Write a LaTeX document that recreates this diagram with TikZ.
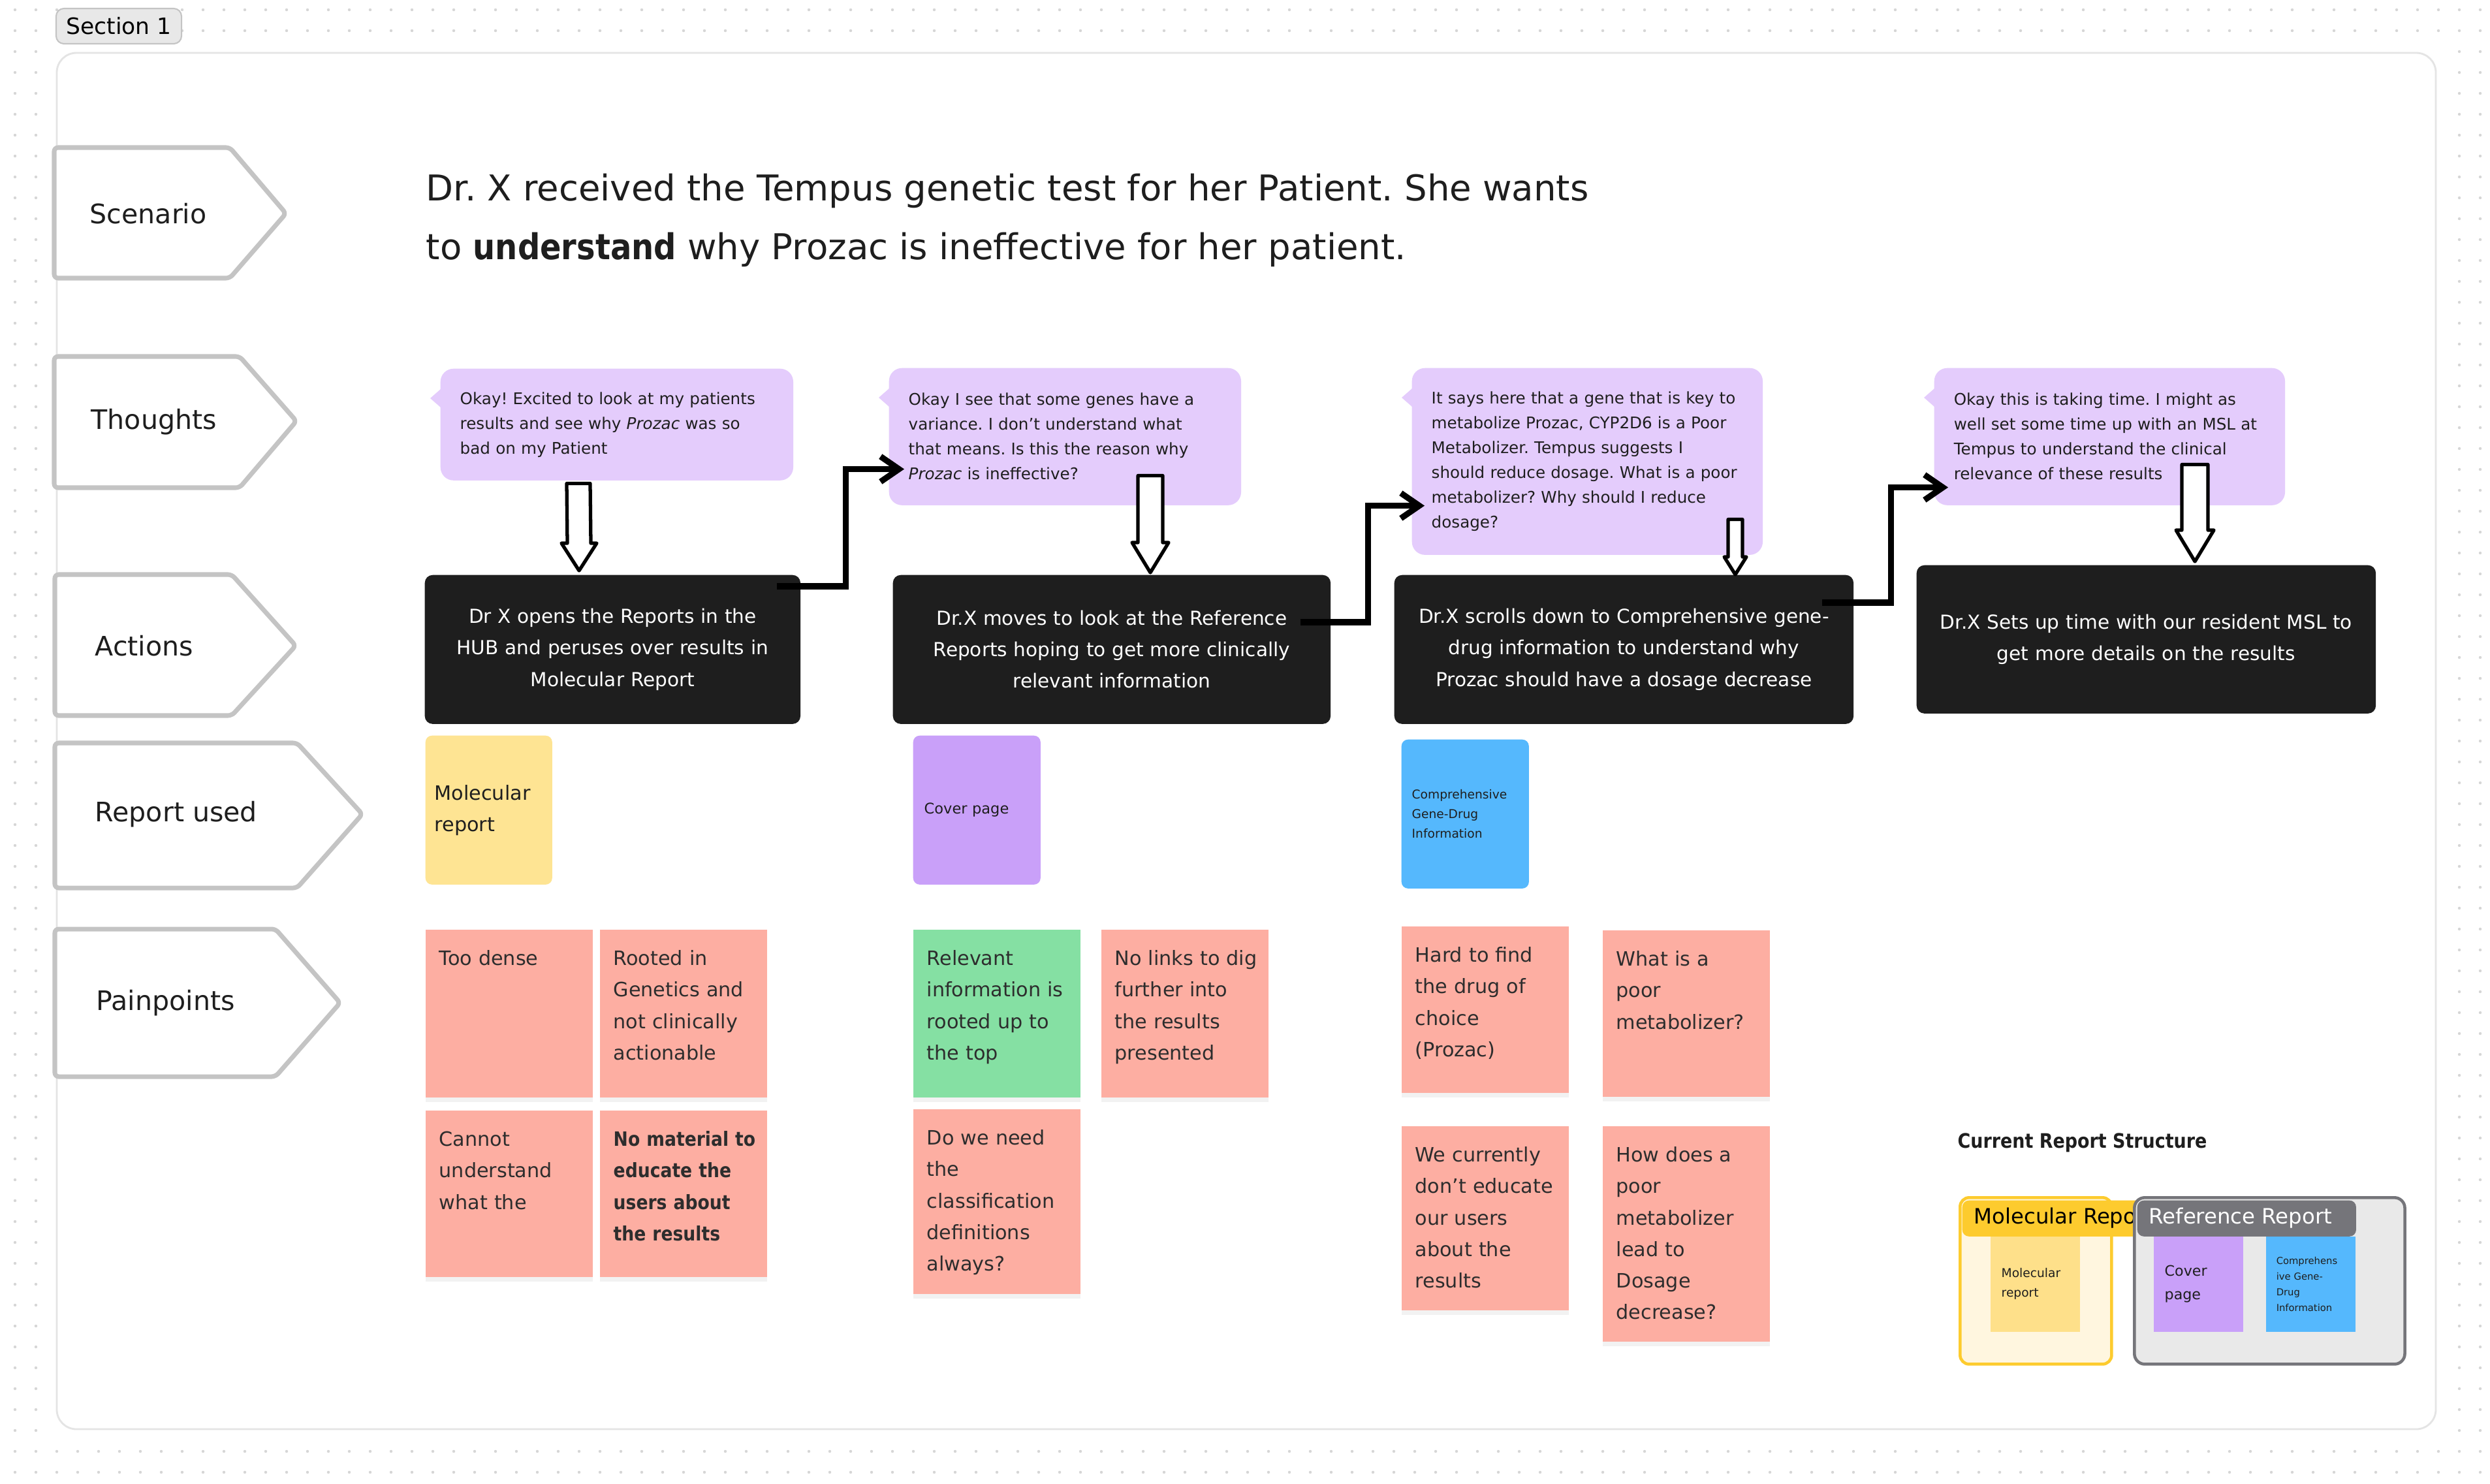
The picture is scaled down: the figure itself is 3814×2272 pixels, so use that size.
\documentclass[tikz,border=0pt]{standalone}
\usepackage{fontspec}
\setmainfont{DejaVu Sans}[BoldFeatures={FakeStretch=0.88}]
\usetikzlibrary{positioning, arrows.meta, calc, shadows}
\definecolor{dotgrey}{RGB}{214, 214, 214}
\definecolor{framegrey}{RGB}{228, 228, 228}
\definecolor{tagborder}{RGB}{196, 196, 196}
\definecolor{sectionbg}{RGB}{232, 232, 232}
\definecolor{sectionline}{RGB}{196, 196, 196}
\definecolor{inkdark}{RGB}{30, 30, 30}
\definecolor{noteink}{RGB}{45, 45, 45}
\definecolor{thoughtbg}{RGB}{228, 204, 252}
\definecolor{actionbg}{RGB}{30, 30, 30}
\definecolor{molyellow}{RGB}{254, 228, 147}
\definecolor{coverpurple}{RGB}{201, 160, 249}
\definecolor{compblue}{RGB}{85, 184, 253}
\definecolor{painsalmon}{RGB}{253, 174, 162}
\definecolor{paingreen}{RGB}{133, 224, 163}
\definecolor{moltab}{RGB}{253, 203, 46}
\definecolor{molframebg}{RGB}{255, 246, 223}
\definecolor{molinner}{RGB}{254, 224, 138}
\definecolor{reftab}{RGB}{117, 117, 122}
\definecolor{refframebg}{RGB}{233, 233, 233}
\newcommand{\titlefont}{\fontsize{15.5}{25.6}\selectfont}
\newcommand{\bubblefont}{\fontsize{7}{10.8}\selectfont}
\newcommand{\actfont}{\fontsize{8.4}{13.7}\selectfont}
\newcommand{\notefont}{\fontsize{8.6}{13.7}\selectfont}
\newcommand{\tagfont}{\fontsize{11.7}{14}\selectfont}
\newcommand{\tabfont}{\fontsize{9.2}{11}\selectfont}
\newcommand{\minifont}{\fontsize{5.3}{8.5}\selectfont}
\newcommand{\minicoverfont}{\fontsize{6.3}{10.2}\selectfont}
\newcommand{\minicompfont}{\fontsize{4.2}{6.8}\selectfont}
\newcommand{\hollowdown}[5]{\filldraw[hollow] ($(#1)+(-#3,0)$) -- ($(#2)+(-#3,-#5)$) -- ($(#2)+(-#4,-#5)$) -- (#2) -- ($(#2)+(#4,-#5)$) -- ($(#2)+(#3,-#5)$) -- ($(#1)+(#3,0)$) -- cycle;}
\tikzset{
  tagline/.style={draw=tagborder, line width=2pt, fill=white, rounded corners=0.06cm},
  taglabel/.style={anchor=west, inner sep=0pt, font=\tagfont, text=inkdark},
  thought/.style={anchor=north west, fill=thoughtbg, rounded corners=0.2cm, inner xsep=0.3cm, inner ysep=0pt, align=left, font=\bubblefont, text=inkdark},
  action/.style={anchor=north west, fill=actionbg, rounded corners=0.12cm, inner xsep=0.2cm, inner ysep=0pt, align=center, font=\actfont, text=white},
  report/.style={anchor=north west, rounded corners=0.1cm, inner ysep=0pt, minimum height=2.28cm, align=left, text=inkdark},
  pain/.style={anchor=north west, fill=painsalmon, inner xsep=0.21cm, inner ysep=0pt, minimum width=2.56cm, text width=2.14cm, text height=0.55cm, text depth=#1, align=left, font=\notefont, text=noteink, drop shadow={shadow xshift=0pt, shadow yshift=-2pt, opacity=0.1}},
  flow/.style={line width=2.6pt, -{Straight Barb[length=8pt, width=11pt]}},
  hollow/.style={draw=black, fill=white, line width=1.5pt, line join=round},
  mini/.style={anchor=north west, inner ysep=0pt, align=left, text=inkdark, minimum width=1.37cm, minimum height=1.46cm}
}
\begin{document}
\frenchspacing
\begin{tikzpicture}[x=0.01cm, y=-0.01cm]
  \useasboundingbox (0,0) rectangle (3814,2272);
  \fill[white] (0,0) rectangle (3814,2272);
  % dot grid round the section
  \foreach \x in {23,55,...,3814}
    \foreach \y in {15,47,2223,2255}
      \fill[dotgrey] (\x,\y) circle (0.022cm);
  \foreach \x in {23,55,3767,3799}
    \foreach \y in {79,111,...,2200}
      \fill[dotgrey] (\x,\y) circle (0.022cm);
  \draw[framegrey, line width=0.8pt, fill=white, rounded corners=0.3cm] (87,81) rectangle (3731,2189);
  \node[draw=sectionline, fill=sectionbg, line width=0.6pt, rounded corners=0.12cm, minimum width=1.92cm, minimum height=0.54cm, inner sep=0pt, font=\fontsize{9.8}{12}\selectfont, text=black] (section) at (182,40) {Section 1};

  % Row tags
  \draw[tagline] (83,226) -- (352,226) -- (438,327) -- (352,426) -- (83,426) -- cycle;
  \node[taglabel] (scenario) at (137,327) {Scenario};
  \draw[tagline] (83,546) -- (367,546) -- (454,645) -- (367,747) -- (83,747) -- cycle;
  \node[taglabel] (thoughts) at (139,646) {Thoughts};
  \draw[tagline] (84,880) -- (355,880) -- (453,989) -- (355,1096) -- (84,1096) -- cycle;
  \node[taglabel] (actions) at (145,989) {Actions};
  \draw[tagline] (84,1138) -- (455,1138) -- (555,1247) -- (455,1360) -- (84,1360) -- cycle;
  \node[taglabel] (reportused) at (145,1247) {Report used};
  \draw[tagline] (84,1423) -- (422,1423) -- (521,1536) -- (422,1649) -- (84,1649) -- cycle;
  \node[taglabel] (painpoints) at (147,1536) {Painpoints};

  % Scenario
  \node[anchor=west, align=left, inner sep=0pt, font=\titlefont, text=inkdark] (scenariotext) at (652,337) {Dr. X received the Tempus genetic test for her Patient. She wants\\to \textbf{understand} why Prozac is ineffective for her patient.};

  % Thoughts
  \node[thought, minimum width=5.40cm, minimum height=1.71cm, text width=4.80cm] (th1) at (674,564) {Okay! Excited to look at my patients\\results and see why \textit{Prozac} was so\\bad on my Patient};
  \node[thought, minimum width=5.39cm, minimum height=2.10cm, text width=4.79cm] (th2) at (1361,563) {Okay I see that some genes have a\\variance. I don’t understand what\\that means. Is this the reason why\\\textit{Prozac} is ineffective?};
  \node[thought, minimum width=5.37cm, minimum height=2.86cm, text width=4.77cm] (th3) at (2162,563) {It says here that a gene that is key to\\metabolize Prozac, CYP2D6 is a Poor\\Metabolizer. Tempus suggests I\\should reduce dosage. What is a poor\\metabolizer? Why should I reduce\\dosage?};
  \node[thought, minimum width=5.37cm, minimum height=2.10cm, text width=4.77cm] (th4) at (2962,563) {Okay this is taking time. I might as\\well set some time up with an MSL at\\Tempus to understand the clinical\\relevance of these results};
  \foreach \b in {th1,th2,th3,th4}
    \fill[thoughtbg] ($(\b.north west)+(1,32)$) -- ++(-16,14) -- ++(16,14) -- cycle;

  % Actions
  \node[action, minimum width=5.75cm, minimum height=2.28cm, text width=5.35cm] (act1) at (650,880) {Dr X opens the Reports in the\\HUB and peruses over results in\\Molecular Report};
  \node[action, minimum width=6.70cm, minimum height=2.28cm, text width=6.30cm] (act2) at (1367,880) {Dr.X moves to look at the Reference\\Reports hoping to get more clinically\\relevant information};
  \node[action, minimum width=7.03cm, minimum height=2.28cm, text width=6.63cm] (act3) at (2135,880) {Dr.X scrolls down to Comprehensive gene-\\drug information to understand why\\Prozac should have a dosage decrease};
  \node[action, minimum width=7.03cm, minimum height=2.27cm, text width=6.63cm] (act4) at (2935,865) {Dr.X Sets up time with our resident MSL to\\get more details on the results};

  % Thought to action
  \coordinate (th1down) at ($(th1.south west)+(212,4)$);
  \coordinate (act1top) at ($(act1.north west)+(237,-6)$);
  \hollowdown{th1down}{act1top}{18}{27}{42}
  \coordinate (th2down) at ($(th2.south west)+(401,-46)$);
  \coordinate (act2top) at ($(act2.north west)+(395,-3)$);
  \hollowdown{th2down}{act2top}{19}{28}{46}
  \coordinate (th3down) at ($(th3.south west)+(496,-55)$);
  \coordinate (act3top) at ($(act3.north west)+(523,0)$);
  \hollowdown{th3down}{act3top}{11}{17}{27}
  \coordinate (th4down) at ($(th4.south west)+(400,-63)$);
  \coordinate (act4top) at ($(act4.north west)+(427,-5)$);
  \hollowdown{th4down}{act4top}{20}{29}{48}

  % Action to next thought
  \coordinate (act1out) at ($(act1.north east)+(-37,18)$);
  \coordinate (th2in) at ($(th2.south west)+(24,-56)$);
  \draw[flow] (act1out) -- ++(106,0) |- (th2in);
  \coordinate (act2out) at ($(act2.north east)+(-47,73)$);
  \coordinate (th3in) at ($(th3.south west)+(20,-76)$);
  \draw[flow] (act2out) -- ++(104,0) |- (th3in);
  \coordinate (act3out) at ($(act3.north east)+(-49,43)$);
  \coordinate (th4in) at ($(th4.south west)+(22,-28)$);
  \draw[flow] (act3out) -- ++(106,0) |- (th4in);

  % Report used
  \node[report, fill=molyellow, inner xsep=0.14cm, minimum width=1.94cm, text width=1.66cm, font=\notefont] (molreport) at (651,1126) {Molecular\\report};
  \node[report, fill=coverpurple, inner xsep=0.17cm, minimum width=1.95cm, text width=1.61cm, font=\fontsize{6.4}{9}\selectfont] (coverpage) at (1398,1126) {Cover page};
  \node[report, fill=compblue, inner xsep=0.16cm, minimum width=1.95cm, text width=1.63cm, font=\fontsize{5.3}{8.5}\selectfont] (genedrug) at (2146,1132) {Comprehensive\\Gene-Drug\\Information};

  % Painpoints
  \node[pain=2.02cm] (pp1) at (651,1423) {Too dense};
  \node[pain=2.02cm] (pp2) at (918,1423) {Rooted in\\Genetics and\\not clinically\\actionable};
  \node[pain=2.00cm] (pp3) at (651,1700) {Cannot\\understand\\what the};
  \node[pain=2.00cm] (pp4) at (918,1700) {\bfseries\mbox{No material to}\\educate the\\users about\\the results};
  \node[pain=2.02cm, fill=paingreen] (pp5) at (1398,1423) {Relevant\\\mbox{information is}\\rooted up to\\the top};
  \node[pain=2.02cm] (pp6) at (1686,1423) {\mbox{No links to dig}\\further into\\the results\\presented};
  \node[pain=2.28cm] (pp7) at (1398,1698) {Do we need\\the\\classification\\definitions\\always?};
  \node[pain=2.00cm] (pp8) at (2146,1418) {Hard to find\\the drug of\\choice\\(Prozac)};
  \node[pain=2.00cm] (pp9) at (2454,1424) {What is a\\poor\\metabolizer?};
  \node[pain=2.27cm] (pp10) at (2146,1724) {We currently\\\mbox{don’t educate}\\our users\\about the\\results};
  \node[pain=2.75cm] (pp11) at (2454,1724) {How does a\\poor\\metabolizer\\lead to\\Dosage\\decrease?};

  % Current report structure
  \node[anchor=west, inner sep=0pt, font=\fontsize{8.7}{10}\selectfont\bfseries, text=inkdark] (structtitle) at (2998,1750) {Current Report Structure};
  \node[anchor=north west, draw=moltab, fill=molframebg, line width=1.3pt, rounded corners=0.14cm, minimum width=2.32cm, minimum height=2.55cm] (molframe) at (3000,1832) {};
  \node[mini, fill=molinner, inner xsep=0.17cm, text width=1.03cm, font=\minifont] (molmini) at (3048,1893) {Molecular\\report};
  \node[anchor=north west, fill=moltab, rounded corners=0.1cm, minimum width=2.85cm, minimum height=0.55cm, inner sep=0pt] (moltabbox) at (3005,1838) {};
  \begin{scope}
    \clip (3005,1830) rectangle (3273,1900);
    \node[anchor=west, inner sep=0pt, font=\tabfont, text=black] (moltabtext) at (3023,1866) {Molecular Report};
  \end{scope}
  \node[anchor=north west, draw=reftab, fill=refframebg, line width=1.3pt, rounded corners=0.16cm, minimum width=4.14cm, minimum height=2.55cm] (refframe) at (3267,1832) {};
  \node[mini, fill=coverpurple, inner xsep=0.17cm, text width=1.03cm, font=\minicoverfont] (covermini) at (3298,1893) {Cover\\page};
  \node[mini, fill=compblue, inner xsep=0.16cm, text width=1.05cm, font=\minicompfont] (compmini) at (3470,1893) {Comprehens\\ive Gene-\\Drug\\Information};
  \node[anchor=north west, fill=reftab, rounded corners=0.1cm, minimum width=3.35cm, minimum height=0.55cm, inner sep=0pt] (reftabbox) at (3273,1838) {};
  \node[anchor=west, inner sep=0pt, font=\tabfont, text=white] (reftabtext) at (3291,1866) {Reference Report};
\end{tikzpicture}
\end{document}
